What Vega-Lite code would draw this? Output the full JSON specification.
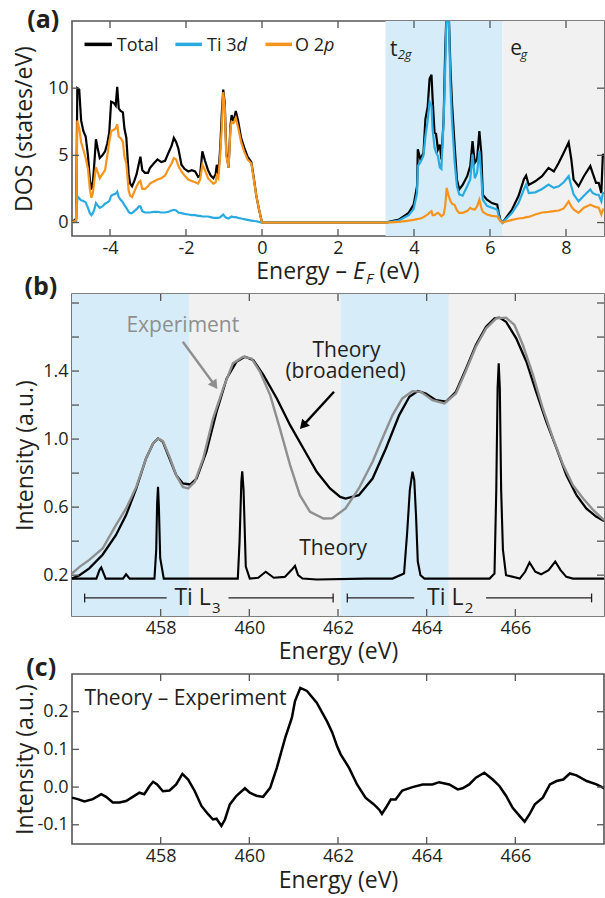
{
"$schema": "https://vega.github.io/schema/vega-lite/v6.json",
"padding": {"left": 12, "top": 7, "right": 1, "bottom": 2},
"bounds": "flush",
"spacing": 58,
"background": "white",
"config": {
 "font": "Open Sans",
 "view": {"stroke": "#555555", "strokeWidth": 1.6},
 "axis": {"grid": false, "domain": false, "ticks": false, "tickSize": 0, "labelFont": "Open Sans", "labelFontSize": 18, "labelColor": "#231F20", "labelPadding": 4, "titleFont": "Open Sans", "titleFontSize": 23, "titleFontWeight": "normal", "titleColor": "#231F20"},
 "axisX": {"labelPadding": 3},
 "rule": {"color": "#555555", "strokeWidth": 1.3},
 "text": {"font": "Open Sans", "color": "#231F20"}
},
"datasets": {
 "one": [{}],
 "dos": [
  {"x":-5.00,"T":0,"Ti":0,"O":0},{"x":-4.89,"T":0.3,"Ti":0.1,"O":0.2},{"x":-4.86,"T":10.0,"Ti":1.95,"O":7.6},{"x":-4.81,"T":9.9,"Ti":1.8,"O":7.0},
  {"x":-4.76,"T":7.6,"Ti":1.65,"O":6.0},{"x":-4.70,"T":6.8,"Ti":1.6,"O":5.4},{"x":-4.64,"T":6.4,"Ti":1.5,"O":4.8},{"x":-4.58,"T":5.0,"Ti":1.1,"O":4.0},
  {"x":-4.53,"T":3.2,"Ti":0.7,"O":2.5},{"x":-4.49,"T":2.45,"Ti":0.55,"O":1.85},{"x":-4.45,"T":3.0,"Ti":0.7,"O":2.2},{"x":-4.41,"T":4.5,"Ti":1.0,"O":3.2},
  {"x":-4.37,"T":6.2,"Ti":1.45,"O":4.1},{"x":-4.33,"T":5.6,"Ti":1.3,"O":3.8},{"x":-4.27,"T":4.8,"Ti":1.1,"O":3.3},{"x":-4.20,"T":5.0,"Ti":1.2,"O":3.6},
  {"x":-4.13,"T":5.3,"Ti":1.4,"O":3.9},{"x":-4.07,"T":5.9,"Ti":1.5,"O":5.0},{"x":-4.02,"T":6.7,"Ti":1.6,"O":6.0},{"x":-3.97,"T":9.0,"Ti":2.0,"O":6.8},
  {"x":-3.90,"T":8.9,"Ti":2.1,"O":6.9},{"x":-3.85,"T":8.7,"Ti":2.15,"O":7.0},{"x":-3.81,"T":10.1,"Ti":2.3,"O":7.3},{"x":-3.77,"T":8.5,"Ti":1.9,"O":6.4},
  {"x":-3.72,"T":8.3,"Ti":1.7,"O":6.3},{"x":-3.66,"T":8.2,"Ti":1.5,"O":6.0},{"x":-3.62,"T":7.0,"Ti":1.3,"O":4.9},{"x":-3.57,"T":6.3,"Ti":1.1,"O":4.4},
  {"x":-3.51,"T":3.6,"Ti":0.8,"O":2.4},{"x":-3.47,"T":2.9,"Ti":0.7,"O":2.0},{"x":-3.42,"T":2.7,"Ti":0.7,"O":1.9},{"x":-3.36,"T":3.1,"Ti":0.85,"O":2.3},
  {"x":-3.30,"T":3.6,"Ti":1.0,"O":2.7},{"x":-3.24,"T":4.4,"Ti":1.2,"O":3.0},{"x":-3.20,"T":4.9,"Ti":1.2,"O":3.1},{"x":-3.15,"T":3.9,"Ti":0.85,"O":2.5},
  {"x":-3.08,"T":3.7,"Ti":0.75,"O":2.5},{"x":-3.00,"T":3.7,"Ti":0.75,"O":2.7},{"x":-2.95,"T":4.05,"Ti":0.75,"O":2.9},{"x":-2.85,"T":4.4,"Ti":0.8,"O":3.05},
  {"x":-2.75,"T":4.7,"Ti":0.8,"O":3.2},{"x":-2.65,"T":4.5,"Ti":0.75,"O":3.3},{"x":-2.55,"T":4.6,"Ti":0.75,"O":3.5},{"x":-2.46,"T":5.2,"Ti":0.8,"O":4.0},
  {"x":-2.38,"T":5.7,"Ti":0.9,"O":4.4},{"x":-2.32,"T":6.3,"Ti":0.95,"O":4.8},{"x":-2.26,"T":6.0,"Ti":0.9,"O":4.7},{"x":-2.20,"T":5.5,"Ti":0.75,"O":4.2},
  {"x":-2.12,"T":4.3,"Ti":0.7,"O":3.8},{"x":-2.04,"T":4.0,"Ti":0.65,"O":3.5},{"x":-1.94,"T":3.8,"Ti":0.6,"O":3.2},{"x":-1.85,"T":3.9,"Ti":0.55,"O":3.1},
  {"x":-1.76,"T":3.8,"Ti":0.55,"O":3.0},{"x":-1.68,"T":3.4,"Ti":0.5,"O":2.9},{"x":-1.63,"T":3.5,"Ti":0.5,"O":3.2},{"x":-1.57,"T":5.3,"Ti":0.45,"O":4.3},
  {"x":-1.50,"T":4.6,"Ti":0.45,"O":3.9},{"x":-1.42,"T":3.9,"Ti":0.45,"O":3.3},{"x":-1.35,"T":3.5,"Ti":0.4,"O":3.1},{"x":-1.28,"T":3.3,"Ti":0.35,"O":2.9},
  {"x":-1.22,"T":3.6,"Ti":0.35,"O":3.0},{"x":-1.19,"T":4.3,"Ti":0.35,"O":3.5},{"x":-1.15,"T":3.6,"Ti":0.35,"O":3.3},{"x":-1.10,"T":5.5,"Ti":0.4,"O":5.0},
  {"x":-1.06,"T":8.0,"Ti":0.5,"O":7.0},{"x":-1.02,"T":9.9,"Ti":0.6,"O":9.7},{"x":-0.98,"T":8.9,"Ti":0.45,"O":8.6},{"x":-0.94,"T":5.2,"Ti":0.35,"O":5.0},
  {"x":-0.88,"T":4.1,"Ti":0.3,"O":4.1},{"x":-0.83,"T":7.2,"Ti":0.4,"O":7.0},{"x":-0.80,"T":8.0,"Ti":0.45,"O":7.5},{"x":-0.75,"T":7.5,"Ti":0.4,"O":7.4},
  {"x":-0.69,"T":8.3,"Ti":0.4,"O":7.8},{"x":-0.63,"T":7.6,"Ti":0.35,"O":7.1},{"x":-0.55,"T":6.3,"Ti":0.3,"O":6.0},{"x":-0.47,"T":5.6,"Ti":0.25,"O":5.3},
  {"x":-0.38,"T":4.9,"Ti":0.2,"O":4.7},{"x":-0.28,"T":4.5,"Ti":0.15,"O":4.4},{"x":-0.22,"T":3.4,"Ti":0.12,"O":3.3},{"x":-0.15,"T":2.0,"Ti":0.1,"O":2.0},
  {"x":-0.08,"T":1.0,"Ti":0.05,"O":1.0},{"x":0.00,"T":0,"Ti":0,"O":0},{"x":3.25,"T":0,"Ti":0,"O":0},{"x":3.60,"T":0.22,"Ti":0.15,"O":0.05},
  {"x":3.86,"T":0.72,"Ti":0.55,"O":0.15},{"x":3.99,"T":1.33,"Ti":1.0,"O":0.2},{"x":4.08,"T":2.7,"Ti":2.2,"O":0.25},{"x":4.10,"T":5.45,"Ti":4.2,"O":0.27},
  {"x":4.17,"T":4.7,"Ti":4.5,"O":0.3},{"x":4.25,"T":5.2,"Ti":5.0,"O":0.4},{"x":4.30,"T":7.7,"Ti":6.4,"O":0.5},{"x":4.36,"T":8.6,"Ti":7.6,"O":0.6},
  {"x":4.41,"T":10.7,"Ti":9.0,"O":0.75},{"x":4.46,"T":11.0,"Ti":8.7,"O":0.85},{"x":4.49,"T":9.2,"Ti":6.9,"O":0.55},{"x":4.54,"T":6.7,"Ti":5.6,"O":0.55},
  {"x":4.58,"T":6.6,"Ti":5.2,"O":0.65},{"x":4.63,"T":5.45,"Ti":4.95,"O":0.72},{"x":4.68,"T":5.8,"Ti":4.1,"O":0.6},{"x":4.72,"T":4.7,"Ti":4.0,"O":0.47},
  {"x":4.78,"T":7.7,"Ti":7.6,"O":0.6},{"x":4.82,"T":12.7,"Ti":11.4,"O":1.2},{"x":4.86,"T":16,"Ti":16,"O":2.58},{"x":4.91,"T":16,"Ti":16,"O":2.0},
  {"x":4.96,"T":11.4,"Ti":10.2,"O":1.6},{"x":5.00,"T":8.9,"Ti":7.6,"O":1.4},{"x":5.07,"T":5.7,"Ti":4.5,"O":1.3},{"x":5.13,"T":3.2,"Ti":2.7,"O":0.9},
  {"x":5.19,"T":2.46,"Ti":2.1,"O":0.72},{"x":5.28,"T":2.8,"Ti":2.0,"O":0.72},{"x":5.40,"T":3.45,"Ti":2.7,"O":0.85},{"x":5.48,"T":4.2,"Ti":3.2,"O":1.1},
  {"x":5.54,"T":6.07,"Ti":5.08,"O":1.0},{"x":5.60,"T":4.45,"Ti":3.3,"O":0.97},{"x":5.66,"T":4.7,"Ti":3.7,"O":1.2},{"x":5.72,"T":6.8,"Ti":5.35,"O":1.7},
  {"x":5.77,"T":5.2,"Ti":3.5,"O":1.1},{"x":5.81,"T":2.07,"Ti":1.7,"O":0.8},{"x":5.92,"T":1.7,"Ti":1.25,"O":0.6},{"x":6.05,"T":1.45,"Ti":1.1,"O":0.5},
  {"x":6.19,"T":1.33,"Ti":0.97,"O":0.45},{"x":6.23,"T":0.72,"Ti":0.5,"O":0.3},{"x":6.27,"T":0.22,"Ti":0.2,"O":0.1},{"x":6.33,"T":0,"Ti":0,"O":0},
  {"x":6.58,"T":0.97,"Ti":0.72,"O":0.2},{"x":6.75,"T":1.97,"Ti":1.45,"O":0.3},{"x":6.89,"T":3.2,"Ti":2.46,"O":0.35},{"x":6.95,"T":3.5,"Ti":2.83,"O":0.4},
  {"x":7.02,"T":2.8,"Ti":2.2,"O":0.42},{"x":7.19,"T":3.07,"Ti":2.25,"O":0.6},{"x":7.37,"T":3.45,"Ti":2.5,"O":0.75},{"x":7.54,"T":4.07,"Ti":2.83,"O":0.8},
  {"x":7.68,"T":3.8,"Ti":2.58,"O":0.85},{"x":7.81,"T":4.45,"Ti":2.7,"O":0.9},{"x":7.94,"T":5.2,"Ti":3.0,"O":1.05},{"x":8.07,"T":5.97,"Ti":3.45,"O":1.58},
  {"x":8.14,"T":4.7,"Ti":2.7,"O":1.2},{"x":8.20,"T":3.2,"Ti":2.1,"O":0.97},{"x":8.33,"T":2.71,"Ti":1.58,"O":0.72},{"x":8.47,"T":3.45,"Ti":2.0,"O":1.1},
  {"x":8.64,"T":4.2,"Ti":2.46,"O":1.33},{"x":8.70,"T":3.7,"Ti":2.2,"O":1.25},{"x":8.79,"T":2.96,"Ti":2.07,"O":1.15},{"x":8.86,"T":2.96,"Ti":2.07,"O":1.1},
  {"x":8.93,"T":2.2,"Ti":1.58,"O":0.6},{"x":8.97,"T":5.1,"Ti":2.2,"O":0.97},{"x":9.00,"T":4.9,"Ti":2.2,"O":0.97}
 ],
 "exp": [
  {"x":456.0,"y":0.21},{"x":456.17,"y":0.249},{"x":456.39,"y":0.29},{"x":456.69,"y":0.357},{"x":456.99,"y":0.494},{"x":457.22,"y":0.592},
  {"x":457.45,"y":0.719},{"x":457.67,"y":0.886},{"x":457.83,"y":0.974},{"x":457.94,"y":1.004},{"x":458.05,"y":0.988},{"x":458.20,"y":0.896},
  {"x":458.35,"y":0.788},{"x":458.50,"y":0.719},{"x":458.62,"y":0.71},{"x":458.77,"y":0.749},{"x":458.96,"y":0.886},{"x":459.18,"y":1.121},
  {"x":459.41,"y":1.298},{"x":459.63,"y":1.445},{"x":459.86,"y":1.484},{"x":460.05,"y":1.474},{"x":460.24,"y":1.396},{"x":460.47,"y":1.259},
  {"x":460.69,"y":1.062},{"x":460.92,"y":0.847},{"x":461.14,"y":0.67},{"x":461.37,"y":0.572},{"x":461.67,"y":0.533},{"x":461.87,"y":0.535},
  {"x":462.17,"y":0.592},{"x":462.47,"y":0.71},{"x":462.78,"y":0.867},{"x":463.00,"y":1.004},{"x":463.23,"y":1.141},{"x":463.45,"y":1.239},
  {"x":463.68,"y":1.282},{"x":463.87,"y":1.278},{"x":464.13,"y":1.229},{"x":464.40,"y":1.21},{"x":464.66,"y":1.268},{"x":464.89,"y":1.405},
  {"x":465.11,"y":1.543},{"x":465.34,"y":1.651},{"x":465.57,"y":1.71},{"x":465.79,"y":1.714},{"x":465.98,"y":1.671},{"x":466.17,"y":1.553},
  {"x":466.40,"y":1.376},{"x":466.62,"y":1.18},{"x":466.85,"y":1.004},{"x":467.08,"y":0.847},{"x":467.30,"y":0.729},{"x":467.53,"y":0.651},
  {"x":467.76,"y":0.582},{"x":468.0,"y":0.523}
 ],
 "brd": [
  {"x":456.0,"y":0.18},{"x":456.17,"y":0.20},{"x":456.39,"y":0.24},{"x":456.69,"y":0.32},{"x":456.99,"y":0.435},{"x":457.22,"y":0.553},
  {"x":457.45,"y":0.71},{"x":457.67,"y":0.886},{"x":457.83,"y":0.974},{"x":457.94,"y":1.004},{"x":458.05,"y":0.984},{"x":458.20,"y":0.886},
  {"x":458.35,"y":0.788},{"x":458.50,"y":0.739},{"x":458.66,"y":0.733},{"x":458.81,"y":0.768},{"x":459.03,"y":0.925},{"x":459.26,"y":1.16},
  {"x":459.49,"y":1.357},{"x":459.71,"y":1.455},{"x":459.90,"y":1.484},{"x":460.09,"y":1.464},{"x":460.32,"y":1.376},{"x":460.62,"y":1.239},
  {"x":460.92,"y":1.082},{"x":461.22,"y":0.945},{"x":461.52,"y":0.808},{"x":461.82,"y":0.71},{"x":462.05,"y":0.66},{"x":462.17,"y":0.65},
  {"x":462.47,"y":0.67},{"x":462.78,"y":0.768},{"x":463.08,"y":0.945},{"x":463.38,"y":1.141},{"x":463.61,"y":1.249},{"x":463.80,"y":1.282},
  {"x":463.98,"y":1.268},{"x":464.21,"y":1.229},{"x":464.44,"y":1.22},{"x":464.66,"y":1.278},{"x":464.89,"y":1.415},{"x":465.11,"y":1.553},
  {"x":465.34,"y":1.661},{"x":465.53,"y":1.71},{"x":465.64,"y":1.714},{"x":465.79,"y":1.69},{"x":466.02,"y":1.592},{"x":466.25,"y":1.455},
  {"x":466.47,"y":1.278},{"x":466.70,"y":1.102},{"x":466.93,"y":0.945},{"x":467.15,"y":0.788},{"x":467.38,"y":0.67},{"x":467.60,"y":0.592},
  {"x":467.83,"y":0.543},{"x":468.0,"y":0.518}
 ],
 "thy": [
  {"x":456.0,"y":0.18},{"x":456.55,"y":0.18},{"x":456.62,"y":0.23},{"x":456.66,"y":0.245},{"x":456.70,"y":0.22},{"x":456.76,"y":0.18},
  {"x":457.15,"y":0.18},{"x":457.22,"y":0.205},{"x":457.30,"y":0.18},{"x":457.86,"y":0.18},{"x":457.90,"y":0.35},{"x":457.92,"y":0.62},
  {"x":457.94,"y":0.72},{"x":457.96,"y":0.60},{"x":457.99,"y":0.30},{"x":458.07,"y":0.18},{"x":459.74,"y":0.18},{"x":459.78,"y":0.40},
  {"x":459.82,"y":0.75},{"x":459.84,"y":0.81},{"x":459.87,"y":0.70},{"x":459.92,"y":0.25},{"x":460.01,"y":0.18},{"x":460.20,"y":0.185},
  {"x":460.37,"y":0.22},{"x":460.55,"y":0.185},{"x":460.80,"y":0.19},{"x":460.95,"y":0.23},{"x":461.03,"y":0.255},{"x":461.10,"y":0.20},
  {"x":461.20,"y":0.18},{"x":461.52,"y":0.175},{"x":462.62,"y":0.18},{"x":463.23,"y":0.18},{"x":463.49,"y":0.21},{"x":463.56,"y":0.45},
  {"x":463.62,"y":0.70},{"x":463.68,"y":0.808},{"x":463.72,"y":0.76},{"x":463.76,"y":0.55},{"x":463.80,"y":0.28},{"x":463.86,"y":0.20},
  {"x":463.95,"y":0.18},{"x":465.42,"y":0.18},{"x":465.53,"y":0.21},{"x":465.57,"y":0.70},{"x":465.60,"y":1.30},{"x":465.625,"y":1.445},
  {"x":465.65,"y":1.30},{"x":465.68,"y":0.70},{"x":465.72,"y":0.35},{"x":465.79,"y":0.20},{"x":466.10,"y":0.18},{"x":466.22,"y":0.22},
  {"x":466.32,"y":0.275},{"x":466.45,"y":0.22},{"x":466.58,"y":0.205},{"x":466.75,"y":0.23},{"x":466.90,"y":0.28},{"x":467.02,"y":0.23},
  {"x":467.15,"y":0.19},{"x":467.30,"y":0.18},{"x":468.0,"y":0.18}
 ],
 "dif": [
  {"x":456.0,"y":-0.028},{"x":456.13,"y":-0.032},{"x":456.28,"y":-0.038},{"x":456.47,"y":-0.032},{"x":456.66,"y":-0.019},{"x":456.77,"y":-0.026},
  {"x":456.92,"y":-0.041},{"x":457.07,"y":-0.041},{"x":457.22,"y":-0.037},{"x":457.37,"y":-0.026},{"x":457.52,"y":-0.015},{"x":457.63,"y":-0.019},
  {"x":457.75,"y":0.003},{"x":457.83,"y":0.014},{"x":457.92,"y":0.007},{"x":458.05,"y":-0.011},{"x":458.20,"y":-0.009},{"x":458.35,"y":0.007},
  {"x":458.49,"y":0.035},{"x":458.62,"y":0.02},{"x":458.77,"y":-0.011},{"x":458.92,"y":-0.05},{"x":459.07,"y":-0.072},{"x":459.18,"y":-0.086},
  {"x":459.26,"y":-0.084},{"x":459.37,"y":-0.103},{"x":459.45,"y":-0.086},{"x":459.56,"y":-0.046},{"x":459.71,"y":-0.023},{"x":459.90,"y":-0.003},
  {"x":460.01,"y":-0.015},{"x":460.16,"y":-0.023},{"x":460.31,"y":-0.026},{"x":460.47,"y":-0.002},{"x":460.62,"y":0.051},{"x":460.81,"y":0.131},
  {"x":460.96,"y":0.184},{"x":461.03,"y":0.228},{"x":461.15,"y":0.263},{"x":461.30,"y":0.255},{"x":461.52,"y":0.224},{"x":461.75,"y":0.175},
  {"x":461.87,"y":0.145},{"x":461.98,"y":0.108},{"x":462.06,"y":0.087},{"x":462.25,"y":0.051},{"x":462.43,"y":0.007},{"x":462.62,"y":-0.028},
  {"x":462.81,"y":-0.046},{"x":462.93,"y":-0.06},{"x":462.99,"y":-0.071},{"x":463.08,"y":-0.055},{"x":463.19,"y":-0.033},{"x":463.30,"y":-0.033},
  {"x":463.45,"y":-0.009},{"x":463.68,"y":0.0},{"x":463.91,"y":0.007},{"x":464.13,"y":0.007},{"x":464.28,"y":0.013},{"x":464.51,"y":0.007},
  {"x":464.70,"y":-0.006},{"x":464.81,"y":-0.003},{"x":464.96,"y":0.007},{"x":465.11,"y":0.025},{"x":465.30,"y":0.038},{"x":465.49,"y":0.02},
  {"x":465.64,"y":0.003},{"x":465.79,"y":-0.023},{"x":465.94,"y":-0.055},{"x":466.10,"y":-0.077},{"x":466.21,"y":-0.092},{"x":466.32,"y":-0.072},
  {"x":466.44,"y":-0.046},{"x":466.62,"y":-0.028},{"x":466.78,"y":0.007},{"x":466.93,"y":0.016},{"x":467.08,"y":0.02},{"x":467.23,"y":0.036},
  {"x":467.38,"y":0.031},{"x":467.61,"y":0.016},{"x":467.83,"y":0.007},{"x":468.0,"y":-0.003}
 ]
},
"vconcat": [
 {
  "width": 532, "height": 215,
  "resolve": {"axis": {"x": "independent", "y": "independent"}},
  "layer": [
   {"data": {"values": [{"a": 3.25, "b": 6.32, "k": "t"}, {"a": 6.32, "b": 9, "k": "e"}]},
    "mark": {"type": "rect"},
    "encoding": {
     "x": {"field": "a", "type": "quantitative", "scale": {"domain": [-5, 9], "nice": false, "zero": false}, "axis": null},
     "x2": {"field": "b"},
     "y": {"datum": -1, "type": "quantitative", "scale": {"domain": [-1, 15], "nice": false, "zero": false}, "axis": null},
     "y2": {"datum": 15},
     "fill": {"field": "k", "type": "nominal", "scale": {"domain": ["t", "e"], "range": ["#D6EDF9", "#F1F1F2"]}, "legend": null}
    }},
   {"data": {"name": "dos"},
    "mark": {"type": "line", "color": "#000000", "strokeWidth": 2.2, "clip": true},
    "encoding": {
     "x": {"field": "x", "type": "quantitative", "axis": {"values": [-4, -2, 0, 2, 4, 6, 8], "title": null, "labelExpr": "replace(datum.label, '−', '-')"}},
     "y": {"field": "T", "type": "quantitative", "axis": {"values": [0, 5, 10], "title": "DOS (states/eV)", "titleX": -36}}
    }},
   {"data": {"name": "dos"},
    "mark": {"type": "line", "color": "#29ABE2", "strokeWidth": 2.2, "clip": true},
    "encoding": {"x": {"field": "x", "type": "quantitative", "axis": null}, "y": {"field": "Ti", "type": "quantitative", "axis": null}}},
   {"data": {"name": "dos"},
    "mark": {"type": "line", "color": "#F7941D", "strokeWidth": 2.2, "clip": true},
    "encoding": {"x": {"field": "x", "type": "quantitative", "axis": null}, "y": {"field": "O", "type": "quantitative", "axis": null}}},
   {"data": {"name": "one"},
    "layer": [
     {"mark": "rule", "encoding": {"x": {"datum": -4, "type": "quantitative", "axis": null}, "y": {"datum": -1, "type": "quantitative", "axis": null}, "y2": {"datum": -0.478}}},
     {"mark": "rule", "encoding": {"x": {"datum": -2, "type": "quantitative", "axis": null}, "y": {"datum": -1, "type": "quantitative", "axis": null}, "y2": {"datum": -0.478}}},
     {"mark": "rule", "encoding": {"x": {"datum": 0, "type": "quantitative", "axis": null}, "y": {"datum": -1, "type": "quantitative", "axis": null}, "y2": {"datum": -0.478}}},
     {"mark": "rule", "encoding": {"x": {"datum": 2, "type": "quantitative", "axis": null}, "y": {"datum": -1, "type": "quantitative", "axis": null}, "y2": {"datum": -0.478}}},
     {"mark": "rule", "encoding": {"x": {"datum": 4, "type": "quantitative", "axis": null}, "y": {"datum": -1, "type": "quantitative", "axis": null}, "y2": {"datum": -0.478}}},
     {"mark": "rule", "encoding": {"x": {"datum": 6, "type": "quantitative", "axis": null}, "y": {"datum": -1, "type": "quantitative", "axis": null}, "y2": {"datum": -0.478}}},
     {"mark": "rule", "encoding": {"x": {"datum": 8, "type": "quantitative", "axis": null}, "y": {"datum": -1, "type": "quantitative", "axis": null}, "y2": {"datum": -0.478}}},
     {"mark": "rule", "encoding": {"x": {"datum": -4, "type": "quantitative", "axis": null}, "y": {"datum": 15, "type": "quantitative", "axis": null}, "y2": {"datum": 14.478}}},
     {"mark": "rule", "encoding": {"x": {"datum": -2, "type": "quantitative", "axis": null}, "y": {"datum": 15, "type": "quantitative", "axis": null}, "y2": {"datum": 14.478}}},
     {"mark": "rule", "encoding": {"x": {"datum": 0, "type": "quantitative", "axis": null}, "y": {"datum": 15, "type": "quantitative", "axis": null}, "y2": {"datum": 14.478}}},
     {"mark": "rule", "encoding": {"x": {"datum": 2, "type": "quantitative", "axis": null}, "y": {"datum": 15, "type": "quantitative", "axis": null}, "y2": {"datum": 14.478}}},
     {"mark": "rule", "encoding": {"x": {"datum": 4, "type": "quantitative", "axis": null}, "y": {"datum": 15, "type": "quantitative", "axis": null}, "y2": {"datum": 14.478}}},
     {"mark": "rule", "encoding": {"x": {"datum": 6, "type": "quantitative", "axis": null}, "y": {"datum": 15, "type": "quantitative", "axis": null}, "y2": {"datum": 14.478}}},
     {"mark": "rule", "encoding": {"x": {"datum": 8, "type": "quantitative", "axis": null}, "y": {"datum": 15, "type": "quantitative", "axis": null}, "y2": {"datum": 14.478}}},
     {"mark": "rule", "encoding": {"y": {"datum": 0, "type": "quantitative", "axis": null}, "x": {"datum": -5, "type": "quantitative", "axis": null}, "x2": {"datum": -4.816}}},
     {"mark": "rule", "encoding": {"y": {"datum": 5, "type": "quantitative", "axis": null}, "x": {"datum": -5, "type": "quantitative", "axis": null}, "x2": {"datum": -4.816}}},
     {"mark": "rule", "encoding": {"y": {"datum": 10, "type": "quantitative", "axis": null}, "x": {"datum": -5, "type": "quantitative", "axis": null}, "x2": {"datum": -4.816}}},
     {"mark": "rule", "encoding": {"y": {"datum": 0, "type": "quantitative", "axis": null}, "x": {"datum": 9, "type": "quantitative", "axis": null}, "x2": {"datum": 8.816}}},
     {"mark": "rule", "encoding": {"y": {"datum": 5, "type": "quantitative", "axis": null}, "x": {"datum": 9, "type": "quantitative", "axis": null}, "x2": {"datum": 8.816}}},
     {"mark": "rule", "encoding": {"y": {"datum": 10, "type": "quantitative", "axis": null}, "x": {"datum": 9, "type": "quantitative", "axis": null}, "x2": {"datum": 8.816}}},
     {"mark": {"type": "rule", "color": "#000000", "strokeWidth": 3.5}, "encoding": {"x": {"datum": -4.67, "type": "quantitative", "axis": null}, "x2": {"datum": -3.95}, "y": {"datum": 13.26, "type": "quantitative", "axis": null}}},
     {"mark": {"type": "rule", "color": "#29ABE2", "strokeWidth": 3.5}, "encoding": {"x": {"datum": -2.28, "type": "quantitative", "axis": null}, "x2": {"datum": -1.58}, "y": {"datum": 13.26, "type": "quantitative", "axis": null}}},
     {"mark": {"type": "rule", "color": "#F7941D", "strokeWidth": 3.5}, "encoding": {"x": {"datum": 0.09, "type": "quantitative", "axis": null}, "x2": {"datum": 0.79}, "y": {"datum": 13.26, "type": "quantitative", "axis": null}}},
     {"mark": {"type": "text", "text": "(a)", "fontSize": 25, "fontWeight": "bold", "align": "left", "baseline": "alphabetic"}, "encoding": {"x": {"datum": -6.18, "type": "quantitative", "axis": null}, "y": {"datum": 14.48, "type": "quantitative", "axis": null}}},
     {"mark": {"type": "text", "text": "Total", "fontSize": 18, "align": "left", "baseline": "alphabetic"}, "encoding": {"x": {"datum": -3.82, "type": "quantitative", "axis": null}, "y": {"datum": 12.76, "type": "quantitative", "axis": null}}},
     {"mark": {"type": "text", "text": "Ti 3", "fontSize": 18, "align": "left", "baseline": "alphabetic"}, "encoding": {"x": {"datum": -1.447, "type": "quantitative", "axis": null}, "y": {"datum": 12.76, "type": "quantitative", "axis": null}}},
     {"mark": {"type": "text", "text": "d", "fontSize": 18, "fontStyle": "italic", "align": "left", "baseline": "alphabetic"}, "encoding": {"x": {"datum": -0.67, "type": "quantitative", "axis": null}, "y": {"datum": 12.76, "type": "quantitative", "axis": null}}},
     {"mark": {"type": "text", "text": "O 2", "fontSize": 18, "align": "left", "baseline": "alphabetic"}, "encoding": {"x": {"datum": 0.868, "type": "quantitative", "axis": null}, "y": {"datum": 12.76, "type": "quantitative", "axis": null}}},
     {"mark": {"type": "text", "text": "p", "fontSize": 18, "fontStyle": "italic", "align": "left", "baseline": "alphabetic"}, "encoding": {"x": {"datum": 1.63, "type": "quantitative", "axis": null}, "y": {"datum": 12.76, "type": "quantitative", "axis": null}}},
     {"mark": {"type": "text", "text": "t", "fontSize": 21, "align": "left", "baseline": "alphabetic"}, "encoding": {"x": {"datum": 3.37, "type": "quantitative", "axis": null}, "y": {"datum": 12.41, "type": "quantitative", "axis": null}}},
     {"mark": {"type": "text", "text": "2g", "fontSize": 13, "fontStyle": "italic", "align": "left", "baseline": "alphabetic"}, "encoding": {"x": {"datum": 3.57, "type": "quantitative", "axis": null}, "y": {"datum": 12.15, "type": "quantitative", "axis": null}}},
     {"mark": {"type": "text", "text": "e", "fontSize": 21, "align": "left", "baseline": "alphabetic"}, "encoding": {"x": {"datum": 6.53, "type": "quantitative", "axis": null}, "y": {"datum": 12.46, "type": "quantitative", "axis": null}}},
     {"mark": {"type": "text", "text": "g", "fontSize": 13, "fontStyle": "italic", "align": "left", "baseline": "alphabetic"}, "encoding": {"x": {"datum": 6.8, "type": "quantitative", "axis": null}, "y": {"datum": 12.15, "type": "quantitative", "axis": null}}},
     {"mark": {"type": "text", "text": "Energy –", "fontSize": 23, "align": "right", "baseline": "alphabetic"}, "encoding": {"x": {"datum": 2.237, "type": "quantitative", "axis": null}, "y": {"datum": -4.22, "type": "quantitative", "axis": null}}},
     {"mark": {"type": "text", "text": "E", "fontSize": 23, "fontStyle": "italic", "align": "left", "baseline": "alphabetic"}, "encoding": {"x": {"datum": 2.395, "type": "quantitative", "axis": null}, "y": {"datum": -4.22, "type": "quantitative", "axis": null}}},
     {"mark": {"type": "text", "text": "F", "fontSize": 15, "fontStyle": "italic", "align": "left", "baseline": "alphabetic"}, "encoding": {"x": {"datum": 2.737, "type": "quantitative", "axis": null}, "y": {"datum": -4.6, "type": "quantitative", "axis": null}}},
     {"mark": {"type": "text", "text": "(eV)", "fontSize": 23, "align": "left", "baseline": "alphabetic"}, "encoding": {"x": {"datum": 3.09, "type": "quantitative", "axis": null}, "y": {"datum": -4.22, "type": "quantitative", "axis": null}}}
    ]}
  ]
 },
 {
  "width": 532, "height": 322,
  "resolve": {"axis": {"x": "independent", "y": "independent"}},
  "layer": [
   {"data": {"values": [{"a": 456, "b": 458.64, "k": "t"}, {"a": 458.64, "b": 462.06, "k": "e"}, {"a": 462.06, "b": 464.5, "k": "t"}, {"a": 464.5, "b": 468, "k": "e"}]},
    "mark": {"type": "rect"},
    "encoding": {
     "x": {"field": "a", "type": "quantitative", "scale": {"domain": [456, 468], "nice": false, "zero": false}, "axis": null},
     "x2": {"field": "b"},
     "y": {"datum": -0.04, "type": "quantitative", "scale": {"domain": [-0.04, 1.853], "nice": false, "zero": false}, "axis": null},
     "y2": {"datum": 1.853},
     "fill": {"field": "k", "type": "nominal", "scale": {"domain": ["t", "e"], "range": ["#D6EDF9", "#F1F1F2"]}, "legend": null}
    }},
   {"data": {"name": "brd"},
    "mark": {"type": "line", "color": "#000000", "strokeWidth": 2.3},
    "encoding": {
     "x": {"field": "x", "type": "quantitative", "axis": {"values": [458, 460, 462, 464, 466], "title": "Energy (eV)", "titlePadding": 3}},
     "y": {"field": "y", "type": "quantitative", "axis": {"values": [0.2, 0.6, 1.0, 1.4], "format": ".1f", "title": "Intensity (a.u.)", "titleX": -35}}
    }},
   {"data": {"name": "exp"},
    "mark": {"type": "line", "color": "#8F8F8F", "strokeWidth": 2.4},
    "encoding": {"x": {"field": "x", "type": "quantitative", "axis": null}, "y": {"field": "y", "type": "quantitative", "axis": null}}},
   {"data": {"name": "thy"},
    "mark": {"type": "line", "color": "#000000", "strokeWidth": 2.1},
    "encoding": {"x": {"field": "x", "type": "quantitative", "axis": null}, "y": {"field": "y", "type": "quantitative", "axis": null}}},
   {"data": {"name": "one"},
    "layer": [
     {"mark": "rule", "encoding": {"x": {"datum": 458, "type": "quantitative", "axis": null}, "y": {"datum": -0.04, "type": "quantitative", "axis": null}, "y2": {"datum": 0.0012}}},
     {"mark": "rule", "encoding": {"x": {"datum": 460, "type": "quantitative", "axis": null}, "y": {"datum": -0.04, "type": "quantitative", "axis": null}, "y2": {"datum": 0.0012}}},
     {"mark": "rule", "encoding": {"x": {"datum": 462, "type": "quantitative", "axis": null}, "y": {"datum": -0.04, "type": "quantitative", "axis": null}, "y2": {"datum": 0.0012}}},
     {"mark": "rule", "encoding": {"x": {"datum": 464, "type": "quantitative", "axis": null}, "y": {"datum": -0.04, "type": "quantitative", "axis": null}, "y2": {"datum": 0.0012}}},
     {"mark": "rule", "encoding": {"x": {"datum": 466, "type": "quantitative", "axis": null}, "y": {"datum": -0.04, "type": "quantitative", "axis": null}, "y2": {"datum": 0.0012}}},
     {"mark": "rule", "encoding": {"x": {"datum": 458, "type": "quantitative", "axis": null}, "y": {"datum": 1.853, "type": "quantitative", "axis": null}, "y2": {"datum": 1.812}}},
     {"mark": "rule", "encoding": {"x": {"datum": 460, "type": "quantitative", "axis": null}, "y": {"datum": 1.853, "type": "quantitative", "axis": null}, "y2": {"datum": 1.812}}},
     {"mark": "rule", "encoding": {"x": {"datum": 462, "type": "quantitative", "axis": null}, "y": {"datum": 1.853, "type": "quantitative", "axis": null}, "y2": {"datum": 1.812}}},
     {"mark": "rule", "encoding": {"x": {"datum": 464, "type": "quantitative", "axis": null}, "y": {"datum": 1.853, "type": "quantitative", "axis": null}, "y2": {"datum": 1.812}}},
     {"mark": "rule", "encoding": {"x": {"datum": 466, "type": "quantitative", "axis": null}, "y": {"datum": 1.853, "type": "quantitative", "axis": null}, "y2": {"datum": 1.812}}},
     {"mark": "rule", "encoding": {"y": {"datum": 0.2, "type": "quantitative", "axis": null}, "x": {"datum": 456, "type": "quantitative", "axis": null}, "x2": {"datum": 456.158}}},
     {"mark": "rule", "encoding": {"y": {"datum": 0.4, "type": "quantitative", "axis": null}, "x": {"datum": 456, "type": "quantitative", "axis": null}, "x2": {"datum": 456.158}}},
     {"mark": "rule", "encoding": {"y": {"datum": 0.6, "type": "quantitative", "axis": null}, "x": {"datum": 456, "type": "quantitative", "axis": null}, "x2": {"datum": 456.158}}},
     {"mark": "rule", "encoding": {"y": {"datum": 0.8, "type": "quantitative", "axis": null}, "x": {"datum": 456, "type": "quantitative", "axis": null}, "x2": {"datum": 456.158}}},
     {"mark": "rule", "encoding": {"y": {"datum": 1.0, "type": "quantitative", "axis": null}, "x": {"datum": 456, "type": "quantitative", "axis": null}, "x2": {"datum": 456.158}}},
     {"mark": "rule", "encoding": {"y": {"datum": 1.2, "type": "quantitative", "axis": null}, "x": {"datum": 456, "type": "quantitative", "axis": null}, "x2": {"datum": 456.158}}},
     {"mark": "rule", "encoding": {"y": {"datum": 1.4, "type": "quantitative", "axis": null}, "x": {"datum": 456, "type": "quantitative", "axis": null}, "x2": {"datum": 456.158}}},
     {"mark": "rule", "encoding": {"y": {"datum": 1.6, "type": "quantitative", "axis": null}, "x": {"datum": 456, "type": "quantitative", "axis": null}, "x2": {"datum": 456.158}}},
     {"mark": "rule", "encoding": {"y": {"datum": 1.8, "type": "quantitative", "axis": null}, "x": {"datum": 456, "type": "quantitative", "axis": null}, "x2": {"datum": 456.158}}},
     {"mark": "rule", "encoding": {"y": {"datum": 0.2, "type": "quantitative", "axis": null}, "x": {"datum": 468, "type": "quantitative", "axis": null}, "x2": {"datum": 467.842}}},
     {"mark": "rule", "encoding": {"y": {"datum": 0.4, "type": "quantitative", "axis": null}, "x": {"datum": 468, "type": "quantitative", "axis": null}, "x2": {"datum": 467.842}}},
     {"mark": "rule", "encoding": {"y": {"datum": 0.6, "type": "quantitative", "axis": null}, "x": {"datum": 468, "type": "quantitative", "axis": null}, "x2": {"datum": 467.842}}},
     {"mark": "rule", "encoding": {"y": {"datum": 0.8, "type": "quantitative", "axis": null}, "x": {"datum": 468, "type": "quantitative", "axis": null}, "x2": {"datum": 467.842}}},
     {"mark": "rule", "encoding": {"y": {"datum": 1.0, "type": "quantitative", "axis": null}, "x": {"datum": 468, "type": "quantitative", "axis": null}, "x2": {"datum": 467.842}}},
     {"mark": "rule", "encoding": {"y": {"datum": 1.2, "type": "quantitative", "axis": null}, "x": {"datum": 468, "type": "quantitative", "axis": null}, "x2": {"datum": 467.842}}},
     {"mark": "rule", "encoding": {"y": {"datum": 1.4, "type": "quantitative", "axis": null}, "x": {"datum": 468, "type": "quantitative", "axis": null}, "x2": {"datum": 467.842}}},
     {"mark": "rule", "encoding": {"y": {"datum": 1.6, "type": "quantitative", "axis": null}, "x": {"datum": 468, "type": "quantitative", "axis": null}, "x2": {"datum": 467.842}}},
     {"mark": "rule", "encoding": {"y": {"datum": 1.8, "type": "quantitative", "axis": null}, "x": {"datum": 468, "type": "quantitative", "axis": null}, "x2": {"datum": 467.842}}},
     {"mark": {"type": "text", "text": "(b)", "fontSize": 25, "fontWeight": "bold", "align": "left", "baseline": "alphabetic"}, "encoding": {"x": {"datum": 454.93, "type": "quantitative", "axis": null}, "y": {"datum": 1.849, "type": "quantitative", "axis": null}}},
     {"mark": {"type": "text", "text": "Experiment", "fontSize": 21, "color": "#8F8F8F", "align": "center", "baseline": "alphabetic"}, "encoding": {"x": {"datum": 458.5, "type": "quantitative", "axis": null}, "y": {"datum": 1.627, "type": "quantitative", "axis": null}}},
     {"mark": {"type": "text", "text": "Theory", "fontSize": 21, "align": "center", "baseline": "alphabetic"}, "encoding": {"x": {"datum": 462.19, "type": "quantitative", "axis": null}, "y": {"datum": 1.485, "type": "quantitative", "axis": null}}},
     {"mark": {"type": "text", "text": "(broadened)", "fontSize": 21, "align": "center", "baseline": "alphabetic"}, "encoding": {"x": {"datum": 462.17, "type": "quantitative", "axis": null}, "y": {"datum": 1.357, "type": "quantitative", "axis": null}}},
     {"mark": {"type": "text", "text": "Theory", "fontSize": 21, "align": "center", "baseline": "alphabetic"}, "encoding": {"x": {"datum": 461.89, "type": "quantitative", "axis": null}, "y": {"datum": 0.318, "type": "quantitative", "axis": null}}},
     {"mark": {"type": "rule", "color": "#8F8F8F", "strokeWidth": 2.4}, "encoding": {"x": {"datum": 458.5, "type": "quantitative", "axis": null}, "y": {"datum": 1.572, "type": "quantitative", "axis": null}, "x2": {"datum": 459.22}, "y2": {"datum": 1.317}}},
     {"mark": {"type": "point", "shape": "triangle-up", "filled": true, "color": "#8F8F8F", "size": 110, "angle": 144.8, "opacity": 1}, "encoding": {"x": {"datum": 459.22, "type": "quantitative", "axis": null}, "y": {"datum": 1.317, "type": "quantitative", "axis": null}}},
     {"mark": {"type": "rule", "color": "#000000", "strokeWidth": 2.4}, "encoding": {"x": {"datum": 461.91, "type": "quantitative", "axis": null}, "y": {"datum": 1.278, "type": "quantitative", "axis": null}, "x2": {"datum": 461.21}, "y2": {"datum": 1.079}}},
     {"mark": {"type": "point", "shape": "triangle-up", "filled": true, "color": "#000000", "size": 110, "angle": 222.3, "opacity": 1}, "encoding": {"x": {"datum": 461.21, "type": "quantitative", "axis": null}, "y": {"datum": 1.079, "type": "quantitative", "axis": null}}},
     {"mark": {"type": "rule", "color": "#231F20", "strokeWidth": 1.3}, "encoding": {"x": {"datum": 456.285, "type": "quantitative", "axis": null}, "x2": {"datum": 458.135}, "y": {"datum": 0.066, "type": "quantitative", "axis": null}}},
     {"mark": {"type": "rule", "color": "#231F20", "strokeWidth": 1.3}, "encoding": {"x": {"datum": 459.53, "type": "quantitative", "axis": null}, "x2": {"datum": 461.89}, "y": {"datum": 0.066, "type": "quantitative", "axis": null}}},
     {"mark": {"type": "rule", "color": "#231F20", "strokeWidth": 1.3}, "encoding": {"x": {"datum": 462.21, "type": "quantitative", "axis": null}, "x2": {"datum": 463.72}, "y": {"datum": 0.066, "type": "quantitative", "axis": null}}},
     {"mark": {"type": "rule", "color": "#231F20", "strokeWidth": 1.3}, "encoding": {"x": {"datum": 465.34, "type": "quantitative", "axis": null}, "x2": {"datum": 467.72}, "y": {"datum": 0.066, "type": "quantitative", "axis": null}}},
     {"mark": {"type": "rule", "color": "#231F20", "strokeWidth": 1.3}, "encoding": {"x": {"datum": 456.285, "type": "quantitative", "axis": null}, "y": {"datum": 0.04, "type": "quantitative", "axis": null}, "y2": {"datum": 0.092}}},
     {"mark": {"type": "rule", "color": "#231F20", "strokeWidth": 1.3}, "encoding": {"x": {"datum": 461.89, "type": "quantitative", "axis": null}, "y": {"datum": 0.04, "type": "quantitative", "axis": null}, "y2": {"datum": 0.092}}},
     {"mark": {"type": "rule", "color": "#231F20", "strokeWidth": 1.3}, "encoding": {"x": {"datum": 462.21, "type": "quantitative", "axis": null}, "y": {"datum": 0.04, "type": "quantitative", "axis": null}, "y2": {"datum": 0.092}}},
     {"mark": {"type": "rule", "color": "#231F20", "strokeWidth": 1.3}, "encoding": {"x": {"datum": 467.72, "type": "quantitative", "axis": null}, "y": {"datum": 0.04, "type": "quantitative", "axis": null}, "y2": {"datum": 0.092}}},
     {"mark": {"type": "text", "text": "Ti L", "fontSize": 23, "align": "left", "baseline": "alphabetic"}, "encoding": {"x": {"datum": 458.31, "type": "quantitative", "axis": null}, "y": {"datum": 0.0235, "type": "quantitative", "axis": null}}},
     {"mark": {"type": "text", "text": "3", "fontSize": 15, "align": "left", "baseline": "alphabetic"}, "encoding": {"x": {"datum": 459.16, "type": "quantitative", "axis": null}, "y": {"datum": -0.02, "type": "quantitative", "axis": null}}},
     {"mark": {"type": "text", "text": "Ti L", "fontSize": 23, "align": "left", "baseline": "alphabetic"}, "encoding": {"x": {"datum": 464.01, "type": "quantitative", "axis": null}, "y": {"datum": 0.0235, "type": "quantitative", "axis": null}}},
     {"mark": {"type": "text", "text": "2", "fontSize": 15, "align": "left", "baseline": "alphabetic"}, "encoding": {"x": {"datum": 464.86, "type": "quantitative", "axis": null}, "y": {"datum": -0.02, "type": "quantitative", "axis": null}}}
    ]}
  ]
 },
 {
  "width": 532, "height": 170,
  "resolve": {"axis": {"x": "independent", "y": "independent"}},
  "layer": [
   {"data": {"name": "dif"},
    "mark": {"type": "line", "color": "#000000", "strokeWidth": 2.5},
    "encoding": {
     "x": {"field": "x", "type": "quantitative", "scale": {"domain": [456, 468], "nice": false, "zero": false}, "axis": {"values": [458, 460, 462, 464, 466], "title": "Energy (eV)", "titlePadding": 4}},
     "y": {"field": "y", "type": "quantitative", "scale": {"domain": [-0.151, 0.3], "nice": false, "zero": false}, "axis": {"values": [-0.1, 0, 0.1, 0.2], "labelExpr": "replace(format(datum.value, '.1f'), '−', '-')", "title": "Intensity (a.u.)", "titleX": -35}}
    }},
   {"data": {"name": "one"},
    "layer": [
     {"mark": "rule", "encoding": {"x": {"datum": 458, "type": "quantitative", "axis": null}, "y": {"datum": -0.151, "type": "quantitative", "axis": null}, "y2": {"datum": -0.1324}}},
     {"mark": "rule", "encoding": {"x": {"datum": 460, "type": "quantitative", "axis": null}, "y": {"datum": -0.151, "type": "quantitative", "axis": null}, "y2": {"datum": -0.1324}}},
     {"mark": "rule", "encoding": {"x": {"datum": 462, "type": "quantitative", "axis": null}, "y": {"datum": -0.151, "type": "quantitative", "axis": null}, "y2": {"datum": -0.1324}}},
     {"mark": "rule", "encoding": {"x": {"datum": 464, "type": "quantitative", "axis": null}, "y": {"datum": -0.151, "type": "quantitative", "axis": null}, "y2": {"datum": -0.1324}}},
     {"mark": "rule", "encoding": {"x": {"datum": 466, "type": "quantitative", "axis": null}, "y": {"datum": -0.151, "type": "quantitative", "axis": null}, "y2": {"datum": -0.1324}}},
     {"mark": "rule", "encoding": {"x": {"datum": 458, "type": "quantitative", "axis": null}, "y": {"datum": 0.3, "type": "quantitative", "axis": null}, "y2": {"datum": 0.2814}}},
     {"mark": "rule", "encoding": {"x": {"datum": 460, "type": "quantitative", "axis": null}, "y": {"datum": 0.3, "type": "quantitative", "axis": null}, "y2": {"datum": 0.2814}}},
     {"mark": "rule", "encoding": {"x": {"datum": 462, "type": "quantitative", "axis": null}, "y": {"datum": 0.3, "type": "quantitative", "axis": null}, "y2": {"datum": 0.2814}}},
     {"mark": "rule", "encoding": {"x": {"datum": 464, "type": "quantitative", "axis": null}, "y": {"datum": 0.3, "type": "quantitative", "axis": null}, "y2": {"datum": 0.2814}}},
     {"mark": "rule", "encoding": {"x": {"datum": 466, "type": "quantitative", "axis": null}, "y": {"datum": 0.3, "type": "quantitative", "axis": null}, "y2": {"datum": 0.2814}}},
     {"mark": "rule", "encoding": {"y": {"datum": -0.1, "type": "quantitative", "axis": null}, "x": {"datum": 456, "type": "quantitative", "axis": null}, "x2": {"datum": 456.158}}},
     {"mark": "rule", "encoding": {"y": {"datum": 0, "type": "quantitative", "axis": null}, "x": {"datum": 456, "type": "quantitative", "axis": null}, "x2": {"datum": 456.158}}},
     {"mark": "rule", "encoding": {"y": {"datum": 0.1, "type": "quantitative", "axis": null}, "x": {"datum": 456, "type": "quantitative", "axis": null}, "x2": {"datum": 456.158}}},
     {"mark": "rule", "encoding": {"y": {"datum": 0.2, "type": "quantitative", "axis": null}, "x": {"datum": 456, "type": "quantitative", "axis": null}, "x2": {"datum": 456.158}}},
     {"mark": "rule", "encoding": {"y": {"datum": -0.1, "type": "quantitative", "axis": null}, "x": {"datum": 468, "type": "quantitative", "axis": null}, "x2": {"datum": 467.842}}},
     {"mark": "rule", "encoding": {"y": {"datum": 0, "type": "quantitative", "axis": null}, "x": {"datum": 468, "type": "quantitative", "axis": null}, "x2": {"datum": 467.842}}},
     {"mark": "rule", "encoding": {"y": {"datum": 0.1, "type": "quantitative", "axis": null}, "x": {"datum": 468, "type": "quantitative", "axis": null}, "x2": {"datum": 467.842}}},
     {"mark": "rule", "encoding": {"y": {"datum": 0.2, "type": "quantitative", "axis": null}, "x": {"datum": 468, "type": "quantitative", "axis": null}, "x2": {"datum": 467.842}}},
     {"mark": {"type": "text", "text": "(c)", "fontSize": 25, "fontWeight": "bold", "align": "left", "baseline": "alphabetic"}, "encoding": {"x": {"datum": 454.97, "type": "quantitative", "axis": null}, "y": {"datum": 0.294, "type": "quantitative", "axis": null}}},
     {"mark": {"type": "text", "text": "Theory – Experiment", "fontSize": 21, "align": "left", "baseline": "alphabetic"}, "encoding": {"x": {"datum": 456.28, "type": "quantitative", "axis": null}, "y": {"datum": 0.219, "type": "quantitative", "axis": null}}}
    ]}
  ]
 }
]
}
